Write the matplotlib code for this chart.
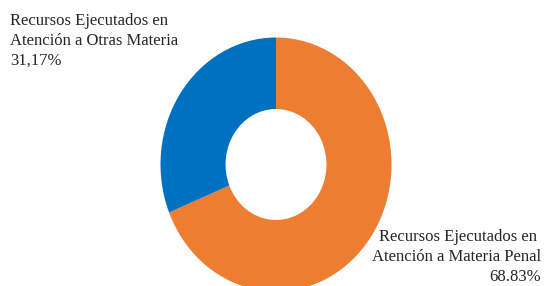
import matplotlib
matplotlib.use("Agg")
import matplotlib.pyplot as plt

labels = ["Recursos Ejecutados en \nAtención a Materia Penal\n68.83%",
          "Recursos Ejecutados en\nAtención a Otras Materia\n31,17%"]
values = [68.83, 31.17]
colors = ["#ED7D31", "#0070C0"]

W, H = 545, 286
fig = plt.figure(figsize=(W / 100, H / 100), dpi=100)
ax = fig.add_axes([0, 0, 1, 1])
ax.pie(values, colors=colors, startangle=90, counterclock=False,
       radius=1.0, wedgeprops=dict(width=0.563, linewidth=0))
ax.set_aspect("auto")
cx, cy, rx, ry = 276, 164.5, 115.5, 127
ax.set_xlim(-cx / rx, (W - cx) / rx)
ax.set_ylim(-(H - cy) / ry, cy / ry)
ax.axis("off")

font = dict(family="Liberation Serif", fontsize=12, color="#262626", linespacing=1.33)
fig.text(10 / W, 1 - 13 / H, labels[1], ha="left", va="top", **font)
fig.text(541 / W, 1 - 229 / H, labels[0], ha="right", va="top", multialignment="right", **font)

fig.savefig("out.png", dpi=100)
